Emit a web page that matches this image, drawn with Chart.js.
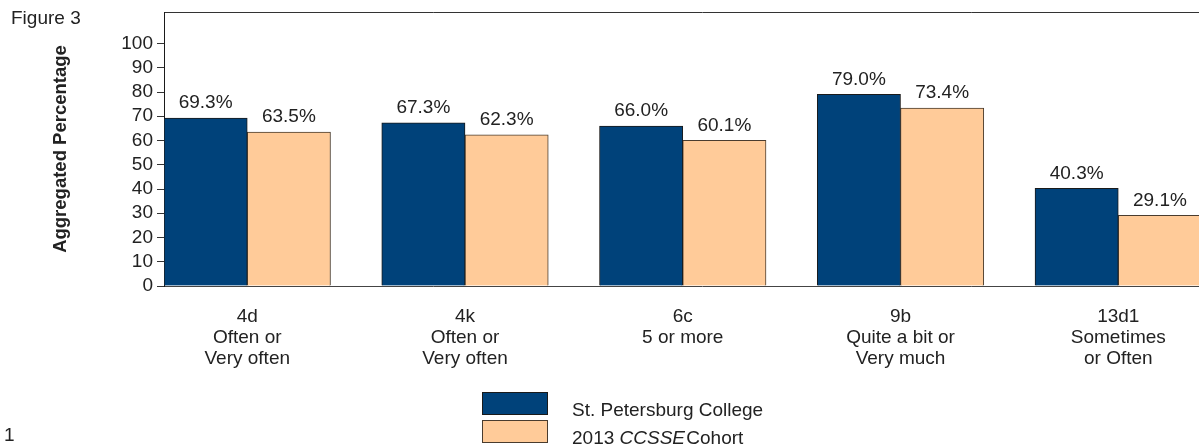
<!DOCTYPE html>
<html>
<head>
<meta charset="utf-8">
<script src="https://cdn.jsdelivr.net/npm/chart.js@4"></script>
<style>
  html, body { margin: 0; padding: 0; background: #fff; overflow: hidden; width: 1199px; height: 447px; }
  body { position: relative; font-family: "Liberation Sans", Arial, sans-serif; color: #222; }
  #wrap { position: absolute; left: 0; top: 0; width: 1240px; height: 447px; }
  .txt { position: absolute; font-size: 19px; line-height: 23px; white-space: nowrap; }
  .box { position: absolute; width: 64px; height: 21px; border: 1px solid #222; }
</style>
</head>
<body>
<div id="wrap"><canvas id="c"></canvas></div>
<div class="txt" style="left:11px; top:6px;">Figure 3</div>
<div class="txt" style="left:4px; top:423px;">1</div>
<div id="legend"></div>
<script>
const categories = ["4d", "4k", "6c", "9b", "13d1"];
const categoryLines = [
  ["4d", "Often or", "Very often"],
  ["4k", "Often or", "Very often"],
  ["6c", "5 or more"],
  ["9b", "Quite a bit or", "Very much"],
  ["13d1", "Sometimes", "or Often"]
];
const seriesNames = ["St. Petersburg College", "2013 CCSSE Cohort"];
const collegeValues = [69.3, 67.3, 66.0, 79.0, 40.3];
const cohortValues = [63.5, 62.3, 60.1, 73.4, 29.1];
const yTicks = [0, 10, 20, 30, 40, 50, 60, 70, 80, 90, 100];

const FONT = "'Liberation Sans', Arial, sans-serif";
const BLUE = "#00427A";
const ORANGE = "#FFCB99";

// HTML legend built from series names
const legendColors = [BLUE, ORANGE];
const legendBorders = ["#1a1a1a", "#4a3c2e"];
const legendEl = document.getElementById("legend");
seriesNames.forEach((name, i) => {
  const b = document.createElement("div");
  b.className = "box";
  b.style.left = "482px";
  b.style.top = (392 + i * 28) + "px";
  b.style.background = legendColors[i];
  b.style.borderColor = legendBorders[i];
  legendEl.appendChild(b);
  const t = document.createElement("div");
  t.className = "txt";
  t.style.left = "572px";
  t.style.top = (398 + i * 28) + "px";
  t.innerHTML = name.replace("CCSSE ", "<i style='margin-right:-4px'>CCSSE</i> ");
  legendEl.appendChild(t);
});

const valueLabels = {
  id: "valueLabels",
  afterDatasetsDraw(chart) {
    const ctx = chart.ctx;
    ctx.save();
    ctx.font = "19px " + FONT;
    ctx.fillStyle = "#222";
    ctx.textAlign = "center";
    ctx.textBaseline = "middle";
    chart.data.datasets.forEach((ds, di) => {
      chart.getDatasetMeta(di).data.forEach((el, i) => {
        ctx.fillText(ds.data[i].y.toFixed(1) + "%", el.x, el.y - 15);
      });
    });
    ctx.restore();
  }
};

const X_OFFSET = 0.3823;

new Chart(document.getElementById("c"), {
  type: "bar",
  data: {
    datasets: [
      {
        label: seriesNames[0],
        data: collegeValues.map((v, i) => ({ x: i, y: v })),
        backgroundColor: BLUE,
        borderColor: "#1a1a1a",
        borderWidth: 1,
        barThickness: 83.25,
        xAxisID: "x",
        yAxisID: "y"
      },
      {
        label: seriesNames[1],
        data: cohortValues.map((v, i) => ({ x: i, y: v })),
        backgroundColor: ORANGE,
        borderColor: "#4a3c2e",
        borderWidth: 1,
        barThickness: 83.25,
        xAxisID: "x",
        yAxisID: "y"
      }
    ]
  },
  options: {
    responsive: true,
    maintainAspectRatio: false,
    animation: false,
    layout: { padding: { top: 12, left: 0, right: 0, bottom: 0 } },
    plugins: {
      legend: { display: false },
      tooltip: { enabled: false }
    },
    scales: {
      x: {
        type: "linear",
        position: "bottom",
        offset: false,
        bounds: "data",
        min: -X_OFFSET,
        max: 4.559,
        afterBuildTicks(scale) { scale.ticks = categories.map((c, i) => ({ value: i })); },
        afterFit(scale) { scale.height = 161; scale.paddingLeft = 0; scale.paddingRight = 0; },
        grid: { display: false, drawTicks: false, offset: false },
        border: { display: true, color: "#444", width: 1 },
        ticks: {
          maxRotation: 0,
          minRotation: 0,
          autoSkip: false,
          padding: 20.5,
          color: "#222",
          font: { family: FONT, size: 19, lineHeight: 1.1 },
          callback(v) {
            return categoryLines[v] ? categoryLines[v] : "";
          }
        }
      },
      x2: {
        type: "linear",
        position: "top",
        display: true,
        offset: false,
        min: 0,
        max: 1,
        grid: { display: false, drawTicks: false },
        border: { display: true, color: "#333", width: 1 },
        ticks: { display: false }
      },
      y: {
        type: "linear",
        min: 0,
        max: 113,
        bounds: "data",
        afterFit(scale) { scale.width = 164; scale.paddingTop = 0; scale.paddingBottom = 0; },
        afterBuildTicks(scale) { scale.ticks = yTicks.map(v => ({ value: v })); },
        grid: {
          drawOnChartArea: false,
          drawTicks: true,
          tickLength: 7,
          color: "#333",
          tickColor: "#333"
        },
        border: { display: true, color: "#1a1a1a", width: 1 },
        ticks: {
          padding: 4,
          color: "#222",
          font: { family: FONT, size: 19 },
          callback(v) { return String(v); }
        },
        title: {
          display: true,
          text: "Aggregated Percentage",
          color: "#222",
          font: { family: FONT, size: 18.5, weight: "bold", lineHeight: 1.2 },
          padding: { top: 50, bottom: 0 }
        }
      }
    }
  },
  plugins: [valueLabels]
});
</script>
</body>
</html>
